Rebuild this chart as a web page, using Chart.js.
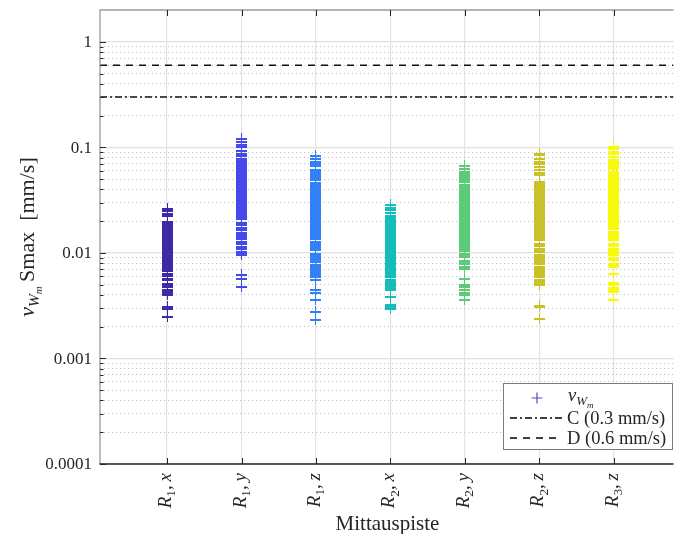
<!DOCTYPE html>
<html>
<head>
<meta charset="utf-8">
<script src="https://cdn.jsdelivr.net/npm/chart.js@4.4.1/dist/chart.umd.min.js"></script>
<style>
  html, body { margin: 0; padding: 0; background: #fff; overflow: hidden; }
  #wrap { position: relative; width: 680px; height: 534px; }
</style>
</head>
<body>
<div id="wrap"><canvas id="vibChart"></canvas></div>
<script>
// measuring points (x axis) and the max velocity samples for each one [mm/s]
const categories = ['R_1,x', 'R_1,y', 'R_1,z', 'R_2,x', 'R_2,y', 'R_2,z', 'R_3,z'];

const r1x = [0.0265, 0.0250, 0.0234, 0.0226,
  0.0198, 0.0191, 0.0184, 0.0177, 0.0171, 0.0165, 0.0159, 0.0153, 0.0147, 0.0142, 0.0137, 0.0132, 0.0127, 0.0123,
  0.0118, 0.0114, 0.0110, 0.0106, 0.0102, 0.0098, 0.0095, 0.0091, 0.0088, 0.0085, 0.0082, 0.0079, 0.0076, 0.0073, 0.00705,
  0.00675, 0.00642, 0.00609, 0.00576, 0.00555, 0.00516, 0.00497, 0.0048, 0.00453, 0.00436, 0.00424, 0.0040,
  0.0031, 0.00299, 0.00249];
const r1y = [0.120, 0.1135, 0.1072, 0.1018, 0.0927, 0.0881, 0.0836,
  0.079, 0.0762, 0.0735, 0.0709, 0.0684, 0.066, 0.0637, 0.0615, 0.0593, 0.0572, 0.0552, 0.0533, 0.0514, 0.0496,
  0.0479, 0.0462, 0.0446, 0.043, 0.0415, 0.04, 0.0386, 0.0373, 0.036, 0.0347, 0.0335, 0.0323, 0.0312, 0.0301,
  0.029, 0.028, 0.027, 0.0261, 0.0252, 0.0243, 0.0234, 0.0226, 0.0218, 0.021,
  0.0195, 0.0184, 0.0175, 0.0166, 0.0157, 0.0150, 0.0143, 0.0136, 0.0128, 0.0122, 0.0116, 0.0111, 0.0104, 0.0099, 0.0096,
  0.0062, 0.00575, 0.0048];
const r1z = [0.083, 0.0778, 0.0733, 0.0698, 0.0668,
  0.0612, 0.0591, 0.057, 0.055, 0.0531, 0.0512, 0.0494, 0.046, 0.0444, 0.0429, 0.0414, 0.0399, 0.0385, 0.0372,
  0.0359, 0.0346, 0.0334, 0.0322, 0.0311, 0.03, 0.029, 0.028, 0.027, 0.026, 0.0251, 0.0242, 0.0234, 0.0226,
  0.0218, 0.021, 0.0203, 0.0196, 0.0189, 0.0182, 0.0176, 0.017, 0.0164, 0.0158, 0.0153, 0.0147, 0.0142, 0.0137,
  0.0128, 0.0123, 0.0119, 0.0115, 0.0111, 0.0107, 0.00995, 0.0096, 0.00926, 0.00894, 0.00863, 0.00832,
  0.00775, 0.00748, 0.00722, 0.00697, 0.00672, 0.00649, 0.00626, 0.00604,
  0.00555, 0.00446, 0.00424, 0.00364, 0.00278, 0.00235];
const r2x = [0.029, 0.0271, 0.0256, 0.0241,
  0.0226, 0.0218, 0.021, 0.0203, 0.0196, 0.0189, 0.0182, 0.0176, 0.017, 0.0164, 0.0158, 0.0153, 0.0147, 0.0142,
  0.0137, 0.0132, 0.0128, 0.0123, 0.0119, 0.0115, 0.0111, 0.0107, 0.0103, 0.00995, 0.0096, 0.00926, 0.00894,
  0.00863, 0.00832, 0.00803, 0.00775, 0.00748, 0.00722, 0.00697, 0.00672, 0.00649, 0.00626, 0.00604,
  0.00562, 0.00543, 0.00524, 0.00505, 0.00488, 0.00471, 0.00454,
  0.00385, 0.00321, 0.0031, 0.00295];
const r2y = [0.0668, 0.0635, 0.059, 0.0569,
  0.0548, 0.0529, 0.051, 0.0492, 0.0475, 0.0442, 0.0427, 0.0412, 0.0397, 0.0383, 0.037, 0.0357, 0.0344, 0.0332,
  0.032, 0.0309, 0.0298, 0.0288, 0.0278, 0.0268, 0.0259, 0.025, 0.0241, 0.0233, 0.0225, 0.0217, 0.0209, 0.0202,
  0.0195, 0.0188, 0.0181, 0.0175, 0.0169, 0.0163, 0.0157, 0.0152, 0.0146, 0.0141, 0.0136, 0.0131, 0.0127, 0.0122,
  0.0118, 0.0114, 0.011, 0.0106, 0.00987, 0.00952, 0.00919, 0.00856, 0.00826, 0.00797, 0.00742, 0.00716,
  0.00576, 0.00497, 0.0048, 0.00446, 0.00421, 0.004, 0.00358];
const r2z = [0.0881, 0.0849, 0.079, 0.0733, 0.0698, 0.0658, 0.0612, 0.0577, 0.0548,
  0.0474, 0.0457, 0.0441, 0.0426, 0.0411, 0.0396, 0.0382, 0.0369, 0.0356, 0.0343, 0.0331, 0.032, 0.0308, 0.0298,
  0.0287, 0.0277, 0.0268, 0.0258, 0.0249, 0.024, 0.0232, 0.0224, 0.0216, 0.0208, 0.0201, 0.0194, 0.0187, 0.018,
  0.0174, 0.0168, 0.0162, 0.0156, 0.0151, 0.0146, 0.0141, 0.0136, 0.0133,
  0.0124, 0.0117, 0.0111, 0.0107, 0.0103, 0.00957, 0.00925, 0.00892, 0.00858, 0.0083, 0.00787, 0.0074, 0.0072,
  0.0069, 0.0067, 0.0064, 0.0062, 0.006, 0.0056, 0.0053, 0.0052, 0.005,
  0.0032, 0.0031, 0.0024];
const r3z = [0.1018, 0.0968, 0.0912, 0.0868, 0.0818, 0.0773,
  0.0733, 0.0707, 0.0682, 0.0658, 0.0635, 0.0592, 0.0571, 0.0551, 0.0532, 0.0513, 0.0495, 0.0478, 0.0461, 0.0445,
  0.0429, 0.0414, 0.04, 0.0386, 0.0372, 0.0359, 0.0347, 0.0335, 0.0323, 0.0312, 0.0301, 0.029, 0.028, 0.027,
  0.0261, 0.0252, 0.0243, 0.0234, 0.0226, 0.0218, 0.021, 0.0203, 0.0196, 0.0189, 0.0182, 0.0176, 0.017,
  0.0158, 0.0153, 0.0147, 0.0142, 0.0137, 0.0133,
  0.0122, 0.0117, 0.0111, 0.0105, 0.0101, 0.0096, 0.0091, 0.0086, 0.008, 0.0077, 0.0074, 0.0064,
  0.0052, 0.005, 0.0047, 0.0045, 0.0043, 0.0036];

const seriesValues = [r1x, r1y, r1z, r2x, r2y, r2z, r3z];
const seriesColors = ['#3c2aa6', '#4549e9', '#3180f6', '#14bdb8', '#5acc77', '#c9c127', '#f8fa0e'];

// limit lines [mm/s]
const limitC = 0.3;
const limitD = 0.6;

const yTickValues = [0.0001, 0.001, 0.01, 0.1, 1];
const yTickLabels = ['0.0001', '0.001', '0.01', '0.1', '1'];

const serif = '"Liberation Serif", "DejaVu Serif", serif';
const X_MIN = 0.1, X_MAX = 7.8;

// all decade + intermediate log ticks (1..9 x 10^k)
function logTicks() {
  const out = [];
  for (let e = -4; e <= -1; e++) {
    for (let m = 1; m <= 9; m++) out.push(+(m * Math.pow(10, e)).toPrecision(3));
  }
  out.push(1);
  return out;
}
function isDecade(v) {
  const l = Math.log10(v);
  return Math.abs(l - Math.round(l)) < 1e-6;
}

// crisp "+" marker sprite; drawn unsmoothed so dense stacks read as a solid strip
function plusSprite(color) {
  const c = document.createElement('canvas');
  c.width = 11; c.height = 11;
  const g = c.getContext('2d');
  g.fillStyle = color;
  g.fillRect(0, 5, 11, 2);
  g.fillRect(5, 0, 1, 11);
  return c;
}

// parts: [text, italic, level]  level 1 = subscript, 2 = sub-subscript
function fontFor(p, size) {
  const s = size * Math.pow(0.7, p[2] || 0);
  return (p[1] ? 'italic ' : '') + s.toFixed(1) + 'px ' + serif;
}
function drawRich(ctx, parts, x, y, size, align) {
  const widths = parts.map(p => { ctx.font = fontFor(p, size); return ctx.measureText(p[0]).width; });
  const total = widths.reduce((a, b) => a + b, 0);
  let cx = align === 'right' ? x - total : align === 'center' ? x - total / 2 : x;
  ctx.textAlign = 'left';
  ctx.textBaseline = 'alphabetic';
  parts.forEach((p, i) => {
    ctx.font = fontFor(p, size);
    const dy = p[2] === 1 ? size * 0.22 : p[2] === 2 ? size * 0.38 : 0;
    ctx.fillText(p[0], cx, y + dy);
    cx += widths[i];
  });
}
function categoryParts(label) {
  const m = /^(\w)_(\w),(\w)$/.exec(label);
  return [[m[1], true, 0], [m[2], false, 1], [',', false, 0], ['\u2009', false, 0], [m[3], true, 0]];
}

const vwmParts = [['v', true, 0], ['W', true, 1], ['m', true, 2]];

const crispPoints = {
  id: 'crispPoints',
  beforeDatasetsDraw(chart) { chart.ctx.save(); chart.ctx.imageSmoothingEnabled = false; },
  afterDatasetsDraw(chart) { chart.ctx.restore(); }
};

const framePlugin = {
  id: 'frame',
  afterDraw(chart) {
    const ctx = chart.ctx;
    const a = chart.chartArea;
    const xs = chart.scales.x, ys = chart.scales.y;
    ctx.save();

    // axis lines
    ctx.lineWidth = 1.3;
    ctx.strokeStyle = '#9a9a9a';
    ctx.beginPath();
    ctx.moveTo(a.left, a.bottom); ctx.lineTo(a.left, a.top);
    ctx.lineTo(a.right, a.top);
    ctx.stroke();
    ctx.strokeStyle = '#262626';
    ctx.beginPath();
    ctx.moveTo(a.left - 0.5, a.bottom); ctx.lineTo(a.right, a.bottom);
    ctx.stroke();

    // inward tick marks
    ctx.lineWidth = 1;
    ctx.strokeStyle = '#262626';
    ctx.beginPath();
    logTicks().forEach(v => {
      const py = Math.round(ys.getPixelForValue(v)) + 0.5;
      const len = isDecade(v) ? 6 : 3.5;
      ctx.moveTo(a.left, py); ctx.lineTo(a.left + len, py);
    });
    categories.forEach((c, i) => {
      const px = Math.round(xs.getPixelForValue(i + 1)) + 0.5;
      ctx.moveTo(px, a.bottom); ctx.lineTo(px, a.bottom - 6);
      ctx.moveTo(px, a.top); ctx.lineTo(px, a.top + 6);
    });
    ctx.stroke();

    ctx.fillStyle = '#262626';
    // y tick labels
    ctx.font = '17px ' + serif;
    ctx.textAlign = 'right';
    ctx.textBaseline = 'middle';
    yTickValues.forEach((v, i) => {
      ctx.fillText(yTickLabels[i], a.left - 8, ys.getPixelForValue(v) + 1);
    });

    // x tick labels, rotated
    categories.forEach((c, i) => {
      const px = xs.getPixelForValue(i + 1);
      ctx.save();
      ctx.translate(px + 4, a.bottom + 9);
      ctx.rotate(-Math.PI / 2);
      drawRich(ctx, categoryParts(c), 0, 0, 19, 'right');
      ctx.restore();
    });

    // axis titles
    ctx.font = '21px ' + serif;
    ctx.textAlign = 'center';
    ctx.textBaseline = 'alphabetic';
    ctx.fillText('Mittauspiste', (a.left + 675) / 2, 530);

    ctx.save();
    ctx.translate(34, (a.top + a.bottom) / 2);
    ctx.rotate(-Math.PI / 2);
    drawRich(ctx, vwmParts.concat([['\u2009Smax', false, 0], ['\u2002[mm/s]', false, 0]]), 0, 0, 22, 'center');
    ctx.restore();

    // legend box
    const bx = 503.5, by = 383.5, bw = 169, bh = 66;
    ctx.fillStyle = '#fff';
    ctx.fillRect(bx, by, bw, bh);
    ctx.strokeStyle = '#7a7a7a';
    ctx.lineWidth = 1;
    ctx.strokeRect(bx, by, bw, bh);

    const rows = [398, 418, 438];
    ctx.strokeStyle = '#5447cc';
    ctx.lineWidth = 1.2;
    ctx.beginPath();
    ctx.moveTo(531.5, rows[0]); ctx.lineTo(542.5, rows[0]);
    ctx.moveTo(537, rows[0] - 5.5); ctx.lineTo(537, rows[0] + 5.5);
    ctx.stroke();

    ctx.strokeStyle = '#000';
    ctx.lineWidth = 1.5;
    ctx.setLineDash([7, 3, 2, 3]);
    ctx.beginPath(); ctx.moveTo(510, rows[1]); ctx.lineTo(562, rows[1]); ctx.stroke();
    ctx.setLineDash([7, 6]);
    ctx.beginPath(); ctx.moveTo(510, rows[2]); ctx.lineTo(562, rows[2]); ctx.stroke();
    ctx.setLineDash([]);

    ctx.fillStyle = '#262626';
    drawRich(ctx, vwmParts, 568, rows[0] + 3, 18.5, 'left');
    ctx.font = '18.5px ' + serif;
    ctx.textAlign = 'left';
    ctx.textBaseline = 'middle';
    ctx.fillText('C (0.3 mm/s)', 567, rows[1] + 1);
    ctx.fillText('D (0.6 mm/s)', 567, rows[2] + 1);

    ctx.restore();
  }
};

const pointSets = seriesValues.map((vals, i) => ({
  label: categories[i],
  data: vals.map(v => ({ x: i + 1, y: v })),
  pointStyle: plusSprite(seriesColors[i]),
  pointRadius: 5.5,
  borderColor: seriesColors[i],
  showLine: false
}));

function limitLine(value, dash) {
  return {
    label: String(value),
    data: [{ x: X_MIN, y: value }, { x: X_MAX, y: value }],
    showLine: true,
    borderColor: '#111',
    borderWidth: 1.6,
    borderDash: dash,
    pointRadius: 0
  };
}

new Chart(document.getElementById('vibChart'), {
  type: 'scatter',
  data: {
    datasets: pointSets.concat([limitLine(limitC, [7, 3, 2, 3]), limitLine(limitD, [7, 6])])
  },
  options: {
    responsive: true,
    maintainAspectRatio: false,
    animation: false,
    events: [],
    layout: { padding: { left: 100, right: 2.5, top: 10, bottom: 70 } },
    plugins: { legend: { display: false }, tooltip: { enabled: false } },
    scales: {
      x: {
        type: 'linear',
        min: X_MIN,
        max: X_MAX,
        afterBuildTicks: s => { s.ticks = categories.map((c, i) => ({ value: i + 1 })); },
        ticks: { display: false },
        grid: { color: '#e3e3e3', lineWidth: 1.2, drawTicks: false },
        border: { display: false }
      },
      y: {
        type: 'logarithmic',
        min: 0.0001,
        max: 2,
        afterBuildTicks: s => { s.ticks = logTicks().map(v => ({ value: v })); },
        ticks: { display: false },
        grid: {
          drawTicks: false,
          color: c => (c.tick && isDecade(c.tick.value)) ? '#e0e0e0' : '#c6c6c6',
          lineWidth: c => (c.tick && isDecade(c.tick.value)) ? 1.3 : 1
        },
        border: {
          display: false,
          dash: c => (c.tick && isDecade(c.tick.value)) ? [] : [1.2, 2.8]
        }
      }
    }
  },
  plugins: [crispPoints, framePlugin]
});
</script>
</body>
</html>
